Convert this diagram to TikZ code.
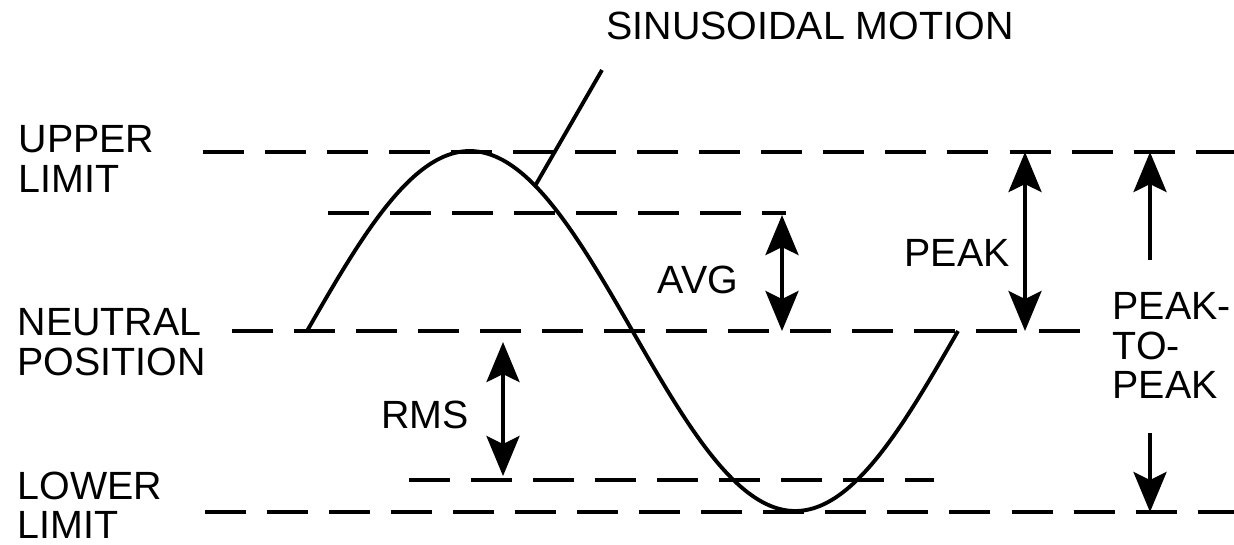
\documentclass[tikz,border=0pt]{standalone}
\usepackage{fontspec}
\setmainfont{Liberation Sans}
\usetikzlibrary{arrows.meta}

\begin{document}
\begin{tikzpicture}[
    x=0.01cm, y=-0.01cm,
    >={Stealth[length=4mm, width=3.3mm, inset=0.8mm]},
    level/.style={line width=1.4pt, dash pattern=on 0.41cm off 0.21cm},
    curve/.style={line width=1.1pt},
    dim/.style={line width=1.1pt},
    lbl/.style={font=\fontsize{11.2}{11.2}\selectfont, inner sep=0pt, align=left}
]
    \useasboundingbox (0,0) rectangle (1234,544);

    % Reference levels
    \draw[level] (203,152) -- (1234,152);
    \draw[level] (328,213) -- (786,213);
    \draw[level] (232,331) -- (1086,331);
    \draw[level] (409,480) -- (934,480);
    \draw[level] (205,512) -- (1234,512);

    % Sinusoidal motion
    \draw[curve] plot[domain=0:360, samples=91, smooth] ({307+1.8083*\x}, {331-180*sin(\x)});

    % Level names
    \node[lbl, anchor=north west] (upper) at (18,125) {UPPER\\LIMIT};
    \node[lbl, anchor=north west] (neutral) at (17,308) {NEUTRAL\\POSITION};
    \node[lbl, anchor=north west] (lower) at (17,471) {LOWER\\LIMIT};

    % Amplitude names
    \node[lbl] (title) at (810,26) {SINUSOIDAL MOTION};
    \node[lbl] (avg) at (698,280) {AVG};
    \node[lbl] (peak) at (957,253) {PEAK};
    \node[lbl] (rms) at (425,415) {RMS};
    \node[lbl, anchor=north west] (ptp) at (1112,292) {PEAK-\\TO-\\PEAK};

    % Leader to the curve
    \coordinate (leadtop) at (602,70);
    \coordinate (leadfoot) at (535,186);
    \draw[curve] (leadtop) -- (leadfoot);

    % Dimension arrows
    \coordinate (avgtop) at (782,215);
    \coordinate (avgbot) at (782,331);
    \draw[dim, <->] (avgtop) -- (avgbot);

    \coordinate (peaktop) at (1025,152);
    \coordinate (peakbot) at (1025,331);
    \draw[dim, <->] (peaktop) -- (peakbot);

    \coordinate (rmstop) at (503,342);
    \coordinate (rmsbot) at (503,476);
    \draw[dim, <->] (rmstop) -- (rmsbot);

    \coordinate (ptptop) at (1150,152);
    \coordinate (ptpupfoot) at (1150,260);
    \draw[dim, ->] (ptpupfoot) -- (ptptop);

    \coordinate (ptpbot) at (1150,512);
    \coordinate (ptpdownfoot) at (1150,433);
    \draw[dim, ->] (ptpdownfoot) -- (ptpbot);
\end{tikzpicture}
\end{document}
